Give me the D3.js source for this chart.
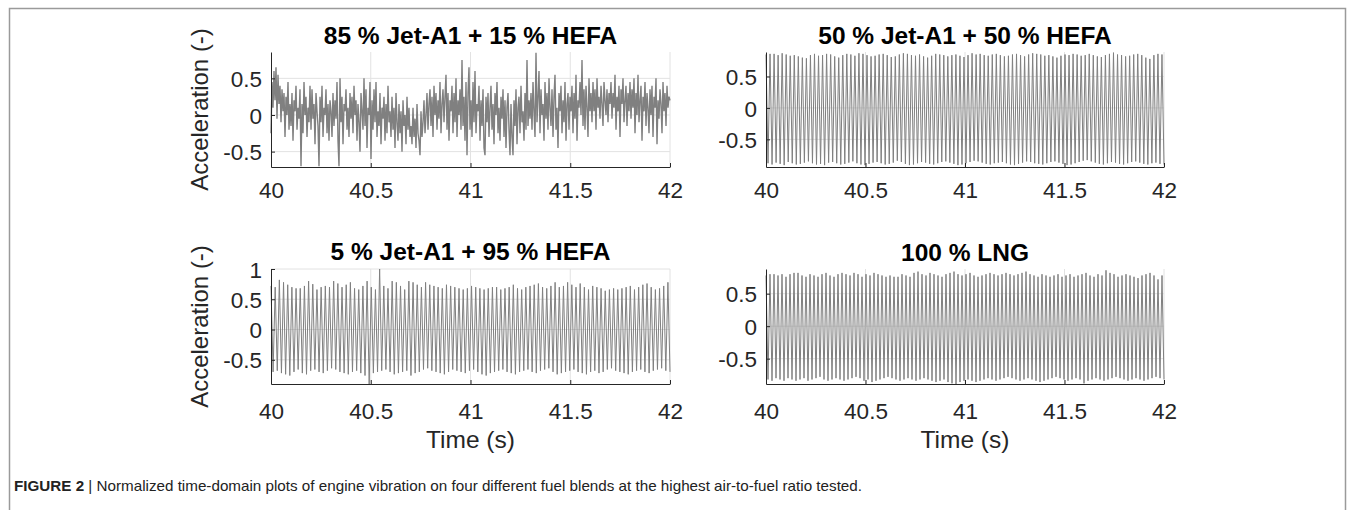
<!DOCTYPE html>
<html>
<head>
<meta charset="utf-8">
<script src="https://cdn.jsdelivr.net/npm/d3@7"></script>
<style>
  body { margin: 0; background: #fff; }
  svg { display: block; font-family: "Liberation Sans", Arial, sans-serif; }
</style>
</head>
<body>
<div id="fig"></div>
<script>
// time axis (s)
var timeRange = [40, 42];
var xTicks = [40, 40.5, 41, 41.5, 42];
var xTickLabels = ["40", "40.5", "41", "41.5", "42"];

var titles = ["85 % Jet-A1 + 15 % HEFA", "50 % Jet-A1 + 50 % HEFA", "5 % Jet-A1 + 95 % HEFA", "100 % LNG"];

// 85/15 blend: broadband noise, read per 0.1 s segment
var noise1 = [
  -0.25,0.45,0.10,0.60,0.20,0.65,-0.05,0.55,0.15,0.40,-0.10,0.35,0.05,0.30,-0.30,0.25,0.00,0.45,-0.20,0.15,
  -0.15,0.30,-0.35,0.20,0.05,0.40,-0.20,0.10,-0.05,0.35,-0.70,0.15,-0.25,0.45,0.00,0.25,-0.30,0.10,-0.10,0.40,
  -0.20,0.35,-0.05,0.15,-0.40,0.30,0.05,-0.15,-0.70,0.25,-0.10,0.40,-0.30,0.10,0.00,0.35,-0.25,0.15,-0.35,0.20,
  0.05,-0.30,0.30,-0.15,0.20,-0.05,0.45,-0.35,-0.70,0.50,-0.10,0.25,-0.40,0.15,0.05,0.35,-0.20,0.10,-0.30,0.30,
  -0.05,0.25,-0.25,0.40,0.00,0.20,-0.35,0.15,-0.10,-0.50,0.30,0.05,-0.20,0.50,-0.15,0.35,-0.45,0.10,0.00,0.45,
  -0.60,0.20,-0.20,0.35,-0.10,0.45,-0.30,0.05,-0.15,0.30,-0.40,0.10,-0.05,0.25,-0.35,0.15,-0.25,0.40,-0.10,0.05,
  -0.30,0.25,-0.20,0.10,-0.45,0.30,-0.10,-0.35,0.15,-0.25,0.05,-0.50,0.20,-0.15,0.00,-0.40,0.25,-0.20,0.10,-0.30,
  -0.15,-0.40,0.10,-0.30,-0.05,-0.45,0.15,-0.25,-0.35,-0.55,0.05,-0.30,-0.10,0.20,-0.25,0.00,0.30,-0.20,0.15,0.35,
  -0.15,0.25,-0.30,0.40,0.00,0.30,-0.20,0.20,-0.05,0.45,-0.25,0.15,0.35,-0.10,0.25,0.55,-0.20,0.30,-0.35,0.20,
  0.05,0.40,-0.25,0.30,-0.10,0.50,-0.30,0.20,0.00,0.35,-0.20,0.75,-0.15,0.25,-0.35,0.45,-0.55,0.30,0.65,-0.20,
  0.20,-0.30,0.45,-0.10,0.60,-0.25,0.15,0.05,0.40,-0.35,0.20,-0.15,0.35,-0.45,-0.55,0.25,-0.10,0.30,-0.30,0.10,
  0.40,-0.20,0.15,-0.40,0.30,0.00,0.45,-0.25,0.10,-0.35,0.25,-0.05,0.35,-0.30,0.20,-0.45,0.10,0.30,-0.20,-0.55,
  0.15,-0.30,-0.55,0.20,-0.15,0.35,-0.40,0.10,0.25,-0.25,0.40,-0.10,0.05,-0.35,0.30,-0.20,0.75,-0.15,0.20,-0.05,
  0.30,-0.20,0.45,0.05,-0.30,0.85,-0.10,0.25,0.60,-0.25,0.35,0.00,0.15,-0.35,0.45,-0.05,0.30,-0.20,0.50,0.10,
  -0.15,0.35,-0.30,0.25,0.55,-0.20,0.10,-0.45,0.30,0.05,0.40,-0.25,0.20,-0.10,0.45,-0.35,0.15,0.30,-0.20,0.25,
  0.05,0.40,-0.25,0.30,-0.05,0.55,-0.35,0.20,0.10,0.45,0.00,0.75,-0.15,0.35,-0.20,0.40,0.10,-0.30,0.50,0.05,
  0.30,-0.10,0.45,0.05,0.35,-0.20,0.50,0.10,0.25,-0.05,0.40,0.15,-0.15,0.45,0.20,0.00,0.35,-0.10,0.30,0.15,
  0.45,-0.05,0.30,0.10,0.55,-0.20,0.25,0.05,0.40,-0.30,0.35,0.15,0.50,-0.10,0.20,0.40,-0.15,0.30,0.05,0.45,
  -0.05,0.35,0.10,0.50,-0.25,0.30,0.00,0.55,-0.10,0.20,0.40,-0.35,0.25,0.05,0.45,-0.15,0.30,0.10,-0.25,0.35,
  0.00,0.40,-0.30,0.25,0.10,0.50,-0.40,0.20,-0.05,0.35,0.15,-0.25,0.45,0.05,0.30,-0.15,0.40,0.10,0.25,0.20
];

// 50/50 blend: peaks and troughs of each cycle
var peaks2 = [
  0.85,0.86,0.86,0.84,0.87,0.85,0.83,0.84,0.82,0.80,0.79,0.84,0.86,0.83,0.84,0.86,0.85,0.82,0.80,0.84,
  0.86,0.85,0.83,0.87,0.86,0.84,0.82,0.83,0.85,0.86,0.84,0.81,0.82,0.85,0.87,0.86,0.84,0.83,0.85,0.82,
  0.80,0.83,0.86,0.85,0.84,0.82,0.84,0.85,0.83,0.81,0.84,0.87,0.85,0.86,0.84,0.83,0.85,0.86,0.84,0.82,
  0.83,0.85,0.86,0.84,0.82,0.85,0.87,0.86,0.85,0.83,0.84,0.82,0.80,0.83,0.85,0.84,0.86,0.85,0.83,0.84,
  0.86,0.84,0.82,0.81,0.84,0.86,0.88,0.85,0.84,0.82,0.83,0.85,0.86,0.84,0.80,0.78,0.84,0.86,0.85
];
var troughs2 = [
  -0.88,-0.90,-0.87,-0.89,-0.91,-0.86,-0.88,-0.90,-0.89,-0.87,-0.85,-0.88,-0.90,-0.89,-0.91,-0.87,-0.86,-0.88,-0.90,-0.89,
  -0.87,-0.85,-0.88,-0.90,-0.91,-0.89,-0.87,-0.86,-0.88,-0.90,-0.89,-0.87,-0.84,-0.86,-0.89,-0.91,-0.90,-0.88,-0.86,-0.87,
  -0.89,-0.90,-0.88,-0.86,-0.85,-0.87,-0.89,-0.91,-0.90,-0.88,-0.86,-0.84,-0.85,-0.87,-0.89,-0.90,-0.88,-0.87,-0.86,-0.88,
  -0.90,-0.91,-0.89,-0.87,-0.85,-0.86,-0.88,-0.89,-0.90,-0.88,-0.86,-0.85,-0.87,-0.89,-0.91,-0.90,-0.88,-0.86,-0.84,-0.83,
  -0.85,-0.87,-0.89,-0.90,-0.88,-0.86,-0.87,-0.89,-0.90,-0.88,-0.86,-0.85,-0.87,-0.89,-0.90,-0.88,-0.87,-0.89,-0.90
];

// 5/95 blend
var peaks3 = [
  0.72,0.70,0.82,0.78,0.74,0.70,0.68,0.68,0.72,0.80,0.75,0.66,0.70,0.72,0.70,0.80,0.76,0.70,0.74,0.78,
  0.68,0.66,0.72,0.80,0.70,0.66,1.00,0.72,0.68,0.80,0.78,0.72,0.66,0.80,0.78,0.74,0.70,0.78,0.74,0.72,
  0.70,0.68,0.74,0.72,0.70,0.68,0.66,0.68,0.72,0.70,0.68,0.66,0.68,0.70,0.70,0.66,0.68,0.70,0.74,0.68,
  0.66,0.70,0.72,0.74,0.76,0.70,0.68,0.72,0.78,0.70,0.72,0.78,0.74,0.70,0.76,0.70,0.66,0.72,0.70,0.68,
  0.64,0.66,0.68,0.66,0.68,0.70,0.72,0.66,0.70,0.74,0.76,0.70,0.66,0.68,0.72,0.78
];
var troughs3 = [
  -0.70,-0.68,-0.72,-0.74,-0.76,-0.70,-0.66,-0.72,-0.74,-0.68,-0.66,-0.70,-0.72,-0.68,-0.64,-0.66,-0.70,-0.72,-0.74,-0.70,
  -0.68,-0.72,-0.76,-0.90,-0.72,-0.70,-0.68,-0.66,-0.70,-0.74,-0.72,-0.70,-0.68,-0.76,-0.72,-0.70,-0.66,-0.64,-0.68,-0.70,
  -0.72,-0.74,-0.70,-0.66,-0.68,-0.70,-0.72,-0.68,-0.66,-0.70,-0.74,-0.76,-0.72,-0.70,-0.68,-0.66,-0.70,-0.72,-0.74,-0.70,
  -0.68,-0.66,-0.70,-0.72,-0.68,-0.66,-0.64,-0.70,-0.74,-0.72,-0.70,-0.68,-0.66,-0.70,-0.72,-0.74,-0.70,-0.68,-0.72,-0.70,
  -0.66,-0.64,-0.68,-0.70,-0.72,-0.74,-0.70,-0.68,-0.66,-0.70,-0.72,-0.68,-0.66,-0.64,-0.68,-0.70
];

// 100 % LNG
var peaks4 = [
  0.78,0.80,0.80,0.78,0.80,0.76,0.80,0.82,0.82,0.78,0.76,0.80,0.78,0.76,0.80,0.82,0.78,0.76,0.80,0.82,
  0.80,0.78,0.82,0.80,0.76,0.80,0.78,0.82,0.80,0.78,0.76,0.78,0.76,0.76,0.80,0.78,0.76,0.82,0.84,0.80,
  0.78,0.82,0.80,0.78,0.76,0.80,0.82,0.84,0.80,0.78,0.80,0.82,0.78,0.76,0.78,0.80,0.82,0.80,0.78,0.80,
  0.82,0.80,0.78,0.80,0.82,0.84,0.80,0.78,0.76,0.80,0.78,0.76,0.78,0.80,0.76,0.78,0.80,0.76,0.78,0.80,
  0.82,0.78,0.76,0.80,0.78,0.86,0.82,0.80,0.76,0.78,0.80,0.78,0.76,0.74,0.78,0.80,0.82,0.78,0.72,0.78
];
var troughs4 = [
  -0.82,-0.84,-0.80,-0.82,-0.84,-0.80,-0.82,-0.84,-0.82,-0.80,-0.84,-0.82,-0.80,-0.78,-0.82,-0.84,-0.82,-0.80,-0.82,-0.84,
  -0.82,-0.80,-0.78,-0.80,-0.84,-0.82,-0.86,-0.84,-0.82,-0.80,-0.78,-0.80,-0.82,-0.84,-0.82,-0.80,-0.82,-0.84,-0.82,-0.80,
  -0.82,-0.84,-0.86,-0.84,-0.82,-0.86,-0.88,-0.90,-0.86,-0.84,-0.82,-0.84,-0.86,-0.84,-0.82,-0.80,-0.82,-0.84,-0.82,-0.80,
  -0.78,-0.80,-0.82,-0.84,-0.82,-0.80,-0.82,-0.84,-0.86,-0.84,-0.82,-0.80,-0.78,-0.80,-0.82,-0.84,-0.82,-0.80,-0.82,-0.88,
  -0.84,-0.82,-0.80,-0.82,-0.84,-0.82,-0.80,-0.78,-0.80,-0.82,-0.84,-0.82,-0.80,-0.82,-0.84,-0.82,-0.80,-0.78,-0.80,-0.82
];

// interleave peaks/troughs into one sample sequence
function cycles(p, t) {
  var out = [];
  p.forEach(function(v, i) { out.push(v); out.push(t[i]); });
  return out;
}

var panels = [
  { title: titles[0], values: noise1, yDomain: [-0.71, 0.86], yTicks: [-0.5, 0, 0.5], sw: 1.4,
    box: { x0: 271, x1: 670, y0: 52, y1: 167 }, ylabel: true, xlabel: false, titleY: 44, tickY: 198 },
  { title: titles[1], values: cycles(peaks2, troughs2), yDomain: [-0.94, 0.89], yTicks: [-0.5, 0, 0.5], sw: 1,
    box: { x0: 766, x1: 1164, y0: 52, y1: 167 }, ylabel: false, xlabel: false, titleY: 44, tickY: 198 },
  { title: titles[2], values: cycles(peaks3, troughs3), yDomain: [-0.9, 1], yTicks: [-0.5, 0, 0.5, 1], sw: 1,
    box: { x0: 271, x1: 670, y0: 269, y1: 384 }, ylabel: true, xlabel: true, titleY: 260, tickY: 419 },
  { title: titles[3], values: cycles(peaks4, troughs4), yDomain: [-0.89, 0.88], yTicks: [-0.5, 0, 0.5], sw: 1,
    box: { x0: 766, x1: 1164, y0: 269, y1: 384 }, ylabel: false, xlabel: true, titleY: 261, tickY: 419 }
];

var svg = d3.select("#fig").append("svg")
  .attr("width", 1355)
  .attr("height", 510);

// outer frame of the figure
svg.append("rect")
  .attr("x", 9.5).attr("y", 8.5)
  .attr("width", 1336).attr("height", 520)
  .attr("fill", "none")
  .attr("stroke", "#9a9a9a")
  .attr("stroke-width", 1.5);

panels.forEach(function(p) {
  var x = d3.scaleLinear().domain(timeRange).range([p.box.x0, p.box.x1]);
  var y = d3.scaleLinear().domain(p.yDomain).range([p.box.y1, p.box.y0]);
  var t = d3.scaleLinear().domain([0, p.values.length - 1]).range(timeRange);

  var g = svg.append("g");

  // grid
  g.append("g").selectAll("line.vx")
    .data(xTicks.slice(1))
    .enter().append("line")
    .attr("x1", d => x(d)).attr("x2", d => x(d))
    .attr("y1", p.box.y0).attr("y2", p.box.y1)
    .attr("stroke", "#e2e2e2").attr("stroke-width", 1);
  g.append("g").selectAll("line.hy")
    .data(p.yTicks)
    .enter().append("line")
    .attr("x1", p.box.x0).attr("x2", p.box.x1)
    .attr("y1", d => y(d)).attr("y2", d => y(d))
    .attr("stroke", "#e2e2e2").attr("stroke-width", 1);

  // signal
  var line = d3.line()
    .x((d, i) => x(t(i)))
    .y(d => y(d));
  g.append("path")
    .datum(p.values)
    .attr("d", line)
    .attr("fill", "none")
    .attr("stroke", "#808080")
    .attr("stroke-width", p.sw);

  // axes (ticks pointing inward like MATLAB)
  var xAxis = d3.axisBottom(x).tickValues(xTicks).tickFormat((d, i) => xTickLabels[i])
    .tickSizeInner(-4).tickSizeOuter(0).tickPadding(14);
  var gx = g.append("g")
    .attr("transform", `translate(0,${p.box.y1})`)
    .call(xAxis);
  var yAxis = d3.axisLeft(y).tickValues(p.yTicks).tickFormat(d => String(d))
    .tickSizeInner(-4).tickSizeOuter(0).tickPadding(10);
  var gy = g.append("g")
    .attr("transform", `translate(${p.box.x0},0)`)
    .call(yAxis);

  [gx, gy].forEach(function(a) {
    a.selectAll("path.domain").attr("stroke", "#262626").attr("stroke-width", 1);
    a.selectAll(".tick line").attr("stroke", "#262626");
    a.selectAll(".tick text")
      .attr("fill", "#262626")
      .style("font-size", "22.5px")
      .style("font-family", "'Liberation Sans', Arial, sans-serif");
  });
  gx.selectAll(".tick text").attr("dy", null).attr("y", p.tickY - p.box.y1);
  gy.selectAll(".tick text").attr("dy", "0.36em").attr("x", -9);

  // title
  g.append("text")
    .attr("x", (p.box.x0 + p.box.x1) / 2)
    .attr("y", p.titleY)
    .attr("text-anchor", "middle")
    .style("font-size", "24.5px")
    .style("font-weight", "bold")
    .attr("fill", "#000")
    .text(p.title);

  if (p.ylabel) {
    g.append("text")
      .attr("transform", `translate(208,${(p.box.y0 + p.box.y1) / 2}) rotate(-90)`)
      .attr("text-anchor", "middle")
      .style("font-size", "24px")
      .attr("fill", "#262626")
      .text("Acceleration (-)");
  }
  if (p.xlabel) {
    g.append("text")
      .attr("x", (p.box.x0 + p.box.x1) / 2)
      .attr("y", 448)
      .attr("text-anchor", "middle")
      .style("font-size", "24.5px")
      .attr("fill", "#262626")
      .text("Time (s)");
  }
});

// caption
var cap = svg.append("text")
  .attr("x", 14)
  .attr("y", 491)
  .attr("textLength", 848)
  .attr("lengthAdjust", "spacingAndGlyphs")
  .style("font-size", "15px")
  .style("font-family", "'Liberation Sans Narrow', 'Liberation Sans', Arial, sans-serif")
  .attr("fill", "#222");
cap.append("tspan").style("font-weight", "bold").text("FIGURE 2");
cap.append("tspan").text(" | Normalized time-domain plots of engine vibration on four different fuel blends at the highest air-to-fuel ratio tested.");
</script>
</body>
</html>
